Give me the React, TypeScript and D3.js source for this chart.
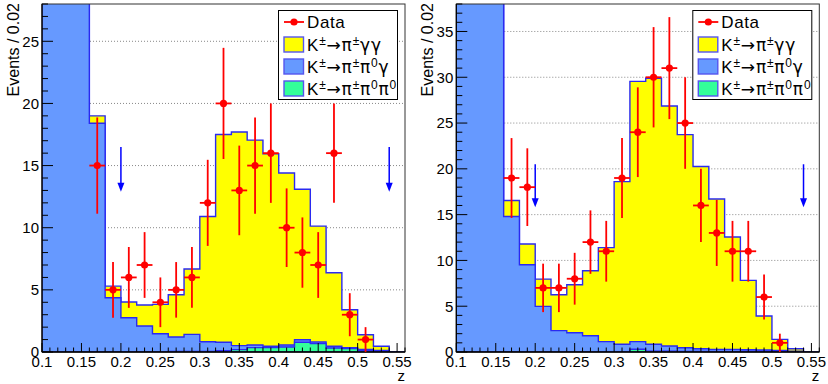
import React from 'react';
import { scaleLinear, area, curveStepAfter, range } from 'd3';

// bin low edges, width 0.02
const zLow = [0.10, 0.12, 0.14, 0.16, 0.18, 0.20, 0.22, 0.24, 0.26, 0.28, 0.30, 0.32,
    0.34, 0.36, 0.38, 0.40, 0.42, 0.44, 0.46, 0.48, 0.50, 0.52, 0.54];
const binW = 0.02;

// data points at bin centres
const zData = [0.17, 0.19, 0.21, 0.23, 0.25, 0.27, 0.29, 0.31, 0.33, 0.35, 0.37, 0.39,
    0.41, 0.43, 0.45, 0.47, 0.49, 0.51];

// left panel
const leftGreen = [0, 0, 0, 0, 0, 0, 0, 0, 0.05, 0.05, 0.05, 0.1, 0.19, 0.35, 0.35, 0.4,
    0.78, 0.67, 0.32, 0.27, 0.13, 0.05, 0];
const leftBlue = [120, 95, 60, 18.4, 4.37, 2.76, 2.09, 1.47, 1.16, 1.37, 0.78, 0.68, 0.32,
    0.21, 0.11, 0.16, 0.21, 0.13, 0.14, 0.08, 0.07, 0.08, 0];
const leftYellow = [0, 0, 0, 0.6, 0.93, 1.26, 1.69, 2.36, 3.4, 5.26, 10.07, 16.72, 17.19,
    16.49, 15.49, 13.84, 12.11, 9.33, 5.92, 3.05, 1.19, 0.33, 0];
const leftData = [15, 5, 6, 7, 4, 5, 6, 12, 20, 13, 15, 16, 10, 8, 7, 16, 3, 1];

// right panel
const rightGreen = [0, 0, 0, 0, 0, 0, 0, 0, 0, 0, 0, 0.3, 0.1, 0.1, 0.05, 0.05, 0.05, 0.05,
    0.05, 0.05, 0.03, 0, 0];
const rightBlue = [130, 100, 70, 14.8, 9.53, 4.98, 2.33, 2.11, 1.78, 1.13, 0.84, 0.83, 0.74,
    0.55, 0.42, 0.31, 0.24, 0.24, 0.2, 0.17, 0.15, 0.1, 0];
const rightYellow = [0, 0, 0, 1.75, 2.27, 2.98, 3.92, 5.24, 7.09, 10.27, 17.76, 28.42, 29.06,
    26.22, 23.27, 19.89, 16.41, 12.26, 7.57, 3.71, 1.2, 0.26, 0];
const rightData = [19, 18, 7, 7, 8, 12, 11, 19, 24, 30, 31, 25, 16, 13, 11, 11, 6, 1];

const xTickLabels = ['0.1', '0.15', '0.2', '0.25', '0.3', '0.35', '0.4', '0.45', '0.5', '0.55'];
const cutZ = [0.2, 0.54];

const legendItems = [
    { key: 'yellow', fill: '#ffff00', parts: [['K'], ['±', 1], ['→π', 2], ['±', 1], ['γγ', 2]] },
    { key: 'blue', fill: '#6699ff', parts: [['K'], ['±', 1], ['→π', 2], ['±', 1], ['π', 2], ['0', 1], ['γ', 2]] },
    { key: 'green', fill: '#33ff99', parts: [['K'], ['±', 1], ['→π', 2], ['±', 1], ['π', 2], ['0', 1], ['π', 2], ['0', 1]] },
];

const FONT = '"Liberation Sans", Arial, Helvetica, sans-serif';
const SYM = '"DejaVu Sans", sans-serif';
const L = 42, R = 405, T = 4, B = 352;
const OUTLINE = '#2a2af0';

// parts: [text, kind] kind 1 = superscript, 2 = symbol glyphs
const Label = ({ parts, x, y }) => (
    <text x={x} y={y} fontFamily={FONT} fontSize={17} letterSpacing={0.8} fill="#000">
        {parts.map((p, i) => {
            const sup = p[1] === 1;
            const prevSup = i > 0 && parts[i - 1][1] === 1;
            const dy = sup ? -6 : (prevSup ? 6 : 0);
            return (
                <tspan key={i} dy={dy} fontSize={sup ? 12 : 17} fontFamily={p[1] === 2 ? SYM : FONT}>{p[0]}</tspan>
            );
        })}
    </text>
);

const Panel = ({ ox, yMax, yStep, green, blue, yellow, data, arrowTop, arrowTip, id }) => {
    const x = scaleLinear().domain([0.1, 0.56]).range([L, R]);
    const y = scaleLinear().domain([0, yMax]).range([B, T]);

    const gCum = green;
    const bCum = green.map((g, i) => g + blue[i]);
    const tCum = bCum.map((b, i) => b + yellow[i]);

    const histArea = area()
        .x(d => x(d[0]))
        .y0(y(0))
        .y1(d => y(d[1]))
        .curve(curveStepAfter);
    const pts = vals => [...zLow.map((z, i) => [z, vals[i]]), [zLow[zLow.length - 1] + binW, vals[vals.length - 1]]];

    const majorY = range(0, yMax + 0.001, yStep);
    const minorY = range(0, yMax + 0.001, 1);
    const minorX = range(0, 47).map(i => 0.1 + i * 0.01);
    const majorX = xTickLabels.map(s => +s);

    return (
        <g transform={`translate(${ox},0)`}>
            <defs>
                <clipPath id={id}><rect x={L} y={T} width={R - L} height={B - T} /></clipPath>
            </defs>
            {majorY.filter(v => v > 0).map(v => (
                <line key={v} x1={L} x2={R} y1={y(v)} y2={y(v)} stroke="#888" strokeDasharray="1,2" />
            ))}
            <g clipPath={`url(#${id})`}>
                {[[tCum, '#ffff00'], [bCum, '#6699ff'], [gCum, '#33ff99']].map(([vals, c], i) => (
                    <path key={i} d={histArea(pts(vals))} fill={c} stroke={OUTLINE} strokeWidth={1.4} />
                ))}
            </g>
            {/* axes and frame */}
            <rect x={L} y={T} width={R - L} height={B - T} fill="none" stroke="#333" strokeWidth={1} />
            <line x1={L} x2={R} y1={B} y2={B} stroke="#000" strokeWidth={1.5} />
            <line x1={L} x2={L} y1={T} y2={B} stroke="#000" strokeWidth={1.2} />
            {minorX.map((v, i) => {
                const major = majorX.some(m => Math.abs(m - v) < 1e-6);
                return <line key={i} x1={x(v)} x2={x(v)} y1={B} y2={B - (major ? 9 : 4.5)} stroke="#000" />;
            })}
            {minorY.map(v => {
                const major = v % yStep === 0;
                return <line key={v} x1={L} x2={L + (major ? 11 : 6)} y1={y(v)} y2={y(v)} stroke="#000" />;
            })}
            {majorY.map(v => (
                <text key={v} x={39} y={y(v)} dy="0.36em" textAnchor="end" fontFamily={FONT} fontSize={15}>{v}</text>
            ))}
            {xTickLabels.map(s => (
                <text key={s} x={x(+s)} y={367} textAnchor="middle" fontFamily={FONT} fontSize={15}>{s}</text>
            ))}
            <text x={R} y={381} textAnchor="end" fontFamily={FONT} fontSize={15}>z</text>
            <text transform="translate(19,3) rotate(-90)" textAnchor="end" fontFamily={FONT} fontSize={16}>Events / 0.02</text>

            {/* cut arrows */}
            {cutZ.map(z => (
                <g key={z}>
                    <line x1={x(z)} x2={x(z)} y1={y(arrowTop)} y2={y(arrowTip) - 6} stroke="#0000ff" strokeWidth={1.5} />
                    <path d={`M${x(z) - 3.5},${y(arrowTip) - 9} L${x(z) + 3.5},${y(arrowTip) - 9} L${x(z)},${y(arrowTip)} Z`} fill="#0000ff" />
                </g>
            ))}

            {/* data */}
            {data.map((n, i) => {
                const e = Math.sqrt(n);
                return (
                    <g key={i} stroke="#ff0000" strokeWidth={1.8}>
                        <line x1={x(zData[i])} x2={x(zData[i])} y1={y(n - e)} y2={y(n + e)} />
                        <line x1={x(zData[i] - 0.01)} x2={x(zData[i] + 0.01)} y1={y(n)} y2={y(n)} />
                        <circle cx={x(zData[i])} cy={y(n)} r={3.6} fill="#ff0000" stroke="none" />
                    </g>
                );
            })}

            {/* legend */}
            <rect x={278.5} y={10.5} width={119} height={89} fill="#fff" stroke="#000" strokeWidth={1} />
            <line x1={284} x2={304} y1={22} y2={22} stroke="#ff0000" strokeWidth={1.8} />
            <circle cx={294} cy={22} r={3.6} fill="#ff0000" />
            <text x={307} y={28} fontFamily={FONT} fontSize={17} letterSpacing={0.6}>Data</text>
            {legendItems.map((it, i) => (
                <g key={it.key}>
                    <rect x={284} y={37 + i * 22} width={19.5} height={15} fill={it.fill} stroke="#5555ee" strokeWidth={1.4} />
                    <Label parts={it.parts} x={307} y={50.5 + i * 22} />
                </g>
            ))}
        </g>
    );
};

export default function App() {
    return (
        <svg width={828} height={384} style={{ position: 'absolute', left: 0, top: 0, background: '#fff' }}>
            <rect width={828} height={384} fill="#fff" />
            <Panel id="clipL" ox={0} yMax={28} yStep={5} green={leftGreen} blue={leftBlue} yellow={leftYellow}
                data={leftData} arrowTop={16.5} arrowTip={12.9} />
            <Panel id="clipR" ox={414.3} yMax={38} yStep={5} green={rightGreen} blue={rightBlue} yellow={rightYellow}
                data={rightData} arrowTop={20.5} arrowTip={15.8} />
        </svg>
    );
}
